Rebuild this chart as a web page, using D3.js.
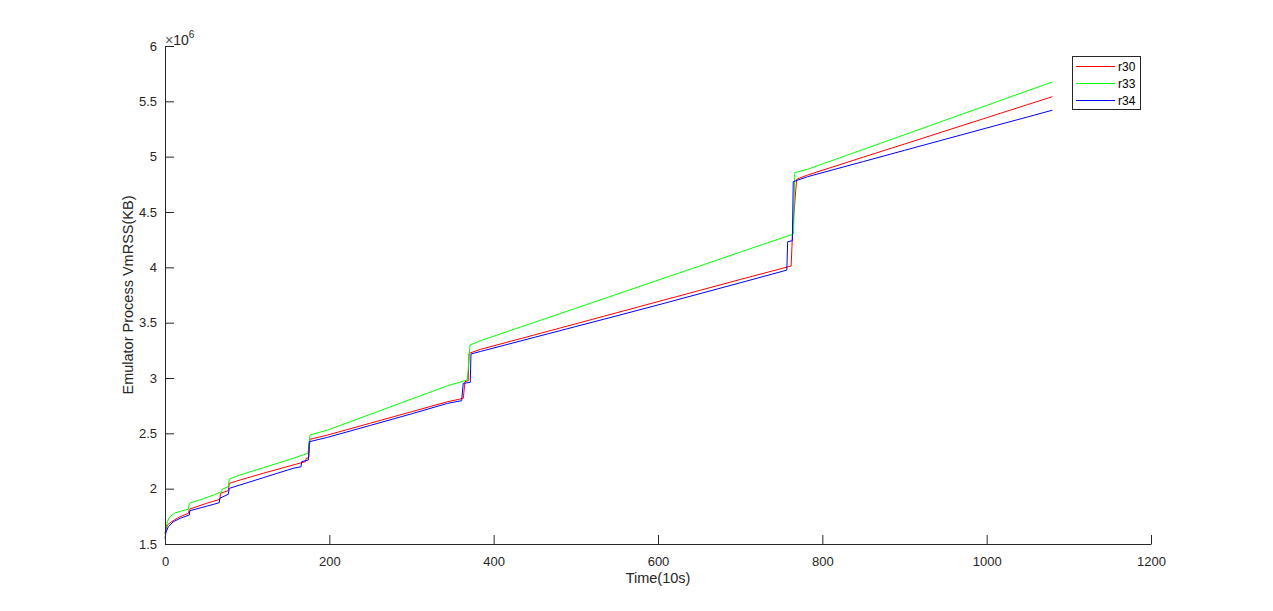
<!DOCTYPE html>
<html>
<head>
<meta charset="utf-8">
<script src="https://cdn.jsdelivr.net/npm/d3@7"></script>
<style>
  html, body { margin: 0; padding: 0; background: #ffffff; }
  svg { display: block; font-family: "Liberation Sans", Arial, Helvetica, sans-serif; }
</style>
</head>
<body>
<svg id="chart" width="1273" height="611"></svg>
<script>
// ---- data (Time in 10s units, VmRSS in KB) ----
const seriesNames = ["r30", "r33", "r34"];
const seriesColors = ["#ff0000", "#00ff00", "#0000ff"];

const r30Time  = [0, 1, 3, 6, 12, 18.3, 28.4, 29.6, 50.7, 66.9, 67.5, 77, 78.3, 91.3, 120, 156, 171, 171.6, 175, 176.5, 198, 250, 300, 344, 363, 365.1, 369, 370, 384, 450, 500, 550, 600, 650, 700, 762, 764, 768.7, 782, 850, 900, 950, 1000, 1050, 1080];
const r30Value = [1590000, 1625000, 1672000, 1690000, 1720000, 1747000, 1777000, 1814000, 1868000, 1904000, 1958000, 1982000, 2048000, 2078000, 2140000, 2214000, 2244000, 2274000, 2280000, 2446000, 2485000, 2592000, 2695000, 2786000, 2816000, 2967000, 2975000, 3223000, 3259000, 3390000, 3490000, 3590000, 3690000, 3790000, 3890000, 4012000, 4350000, 4795000, 4834000, 4996000, 5114000, 5233000, 5352000, 5471000, 5542000];

const r33Time  = [0, 1, 3, 6, 12, 20, 28.4, 29.6, 45, 60, 69, 69.5, 77, 78.3, 91, 120, 150, 174, 176.5, 198, 250, 300, 344, 368, 371.2, 384, 450, 500, 550, 600, 650, 700, 740, 765, 765.5, 766.5, 782, 850, 900, 950, 1000, 1050, 1080];
const r33Value = [1600000, 1640000, 1705000, 1747000, 1780000, 1798000, 1814000, 1868000, 1905000, 1945000, 1973000, 1994000, 2018000, 2087000, 2123000, 2190000, 2260000, 2320000, 2485000, 2530000, 2672000, 2810000, 2930000, 2982000, 3298000, 3337000, 3504000, 3630000, 3757000, 3884000, 4010000, 4137000, 4238000, 4301000, 4563000, 4855000, 4886000, 5066000, 5198000, 5331000, 5463000, 5596000, 5675000];

const r34Time  = [0, 1, 4, 10, 18.3, 29.6, 30.2, 50, 66, 66.6, 77, 78.3, 91.3, 120, 156, 165.5, 166.3, 174.5, 175.6, 198, 250, 300, 344, 361, 363, 371.5, 372.4, 384, 450, 500, 550, 600, 650, 700, 756.8, 757.8, 763.5, 764.6, 782, 850, 900, 950, 1000, 1050, 1080];
const r34Value = [1550000, 1600000, 1656000, 1700000, 1732000, 1762000, 1801000, 1840000, 1873000, 1913000, 1949000, 2003000, 2033000, 2100000, 2184000, 2198000, 2244000, 2259000, 2424000, 2464000, 2572000, 2676000, 2771000, 2795000, 2952000, 2960000, 3217000, 3240000, 3368000, 3465000, 3562000, 3660000, 3760000, 3860000, 3975000, 4232000, 4240000, 4774000, 4819000, 4956000, 5057000, 5158000, 5259000, 5359000, 5420000];

const xTicks = [0, 200, 400, 600, 800, 1000, 1200];
const yTicks = [1.5e6, 2e6, 2.5e6, 3e6, 3.5e6, 4e6, 4.5e6, 5e6, 5.5e6, 6e6];
const yTickLabels = ["1.5", "2", "2.5", "3", "3.5", "4", "4.5", "5", "5.5", "6"];
const xLabel = "Time(10s)";
const yLabel = "Emulator Process VmRSS(KB)";

(function () {
// ---- layout ----
const svg = d3.select("#chart");
const pLeft = 165, pRight = 1151, pTop = 46, pBottom = 544;
const axisColor = "#262626";

const x = d3.scaleLinear().domain([0, 1200]).range([pLeft, pRight]);
const y = d3.scaleLinear().domain([1.5e6, 6e6]).range([pBottom, pTop]);

const series = [
  { name: seriesNames[0], color: seriesColors[0], t: r30Time, v: r30Value },
  { name: seriesNames[1], color: seriesColors[1], t: r33Time, v: r33Value },
  { name: seriesNames[2], color: seriesColors[2], t: r34Time, v: r34Value }
];

const line = d3.line().x(d => x(d[0])).y(d => y(d[1]));

const plot = svg.append("g");
series.forEach(s => {
  const pts = s.t.map((t, i) => [t, s.v[i]]);
  plot.append("path")
    .datum(pts)
    .attr("fill", "none")
    .attr("stroke", s.color)
    .attr("stroke-width", 1)
    .attr("d", line);
});

// ---- axes ----
const xAxis = d3.axisBottom(x).tickValues(xTicks).tickSize(-9).tickPadding(13).tickFormat(d3.format("d"));
const gx = svg.append("g").attr("transform", `translate(0,${pBottom})`).call(xAxis);
gx.select(".domain").attr("stroke", axisColor).attr("d", `M${pLeft + 0.5},0.5H${pRight + 0.5}`);
gx.selectAll(".tick line").attr("stroke", axisColor);
gx.selectAll(".tick text").attr("fill", axisColor).attr("font-size", 13)
  .attr("font-family", "'Liberation Sans', Arial, sans-serif");

const yAxis = d3.axisLeft(y).tickValues(yTicks).tickSize(-9).tickPadding(8)
  .tickFormat((d, i) => yTickLabels[i]);
const gy = svg.append("g").attr("transform", `translate(${pLeft},0)`).call(yAxis);
gy.select(".domain").attr("stroke", axisColor).attr("d", `M0.5,${pTop + 0.5}V${pBottom + 0.5}`);
gy.selectAll(".tick line").attr("stroke", axisColor);
gy.selectAll(".tick text").attr("fill", axisColor).attr("font-size", 13)
  .attr("font-family", "'Liberation Sans', Arial, sans-serif");

// exponent
const exp = svg.append("text").attr("x", 165).attr("y", 45).attr("fill", axisColor)
  .attr("font-size", 14);
exp.append("tspan").attr("fill", "#555").text("\u00d7");
exp.append("tspan").text("10");
exp.append("tspan").attr("dy", -7).attr("font-size", 10).text("6");

// axis labels
svg.append("text").attr("x", (pLeft + pRight) / 2).attr("y", 583)
  .attr("text-anchor", "middle").attr("fill", axisColor).attr("font-size", 14.5).text(xLabel);
svg.append("text").attr("transform", `translate(133,${(pTop + pBottom) / 2}) rotate(-90)`)
  .attr("text-anchor", "middle").attr("fill", axisColor).attr("font-size", 14.5).text(yLabel);

// ---- legend ----
const lg = svg.append("g");
lg.append("rect").attr("x", 1072.5).attr("y", 56.5).attr("width", 68).attr("height", 53)
  .attr("fill", "#ffffff").attr("stroke", axisColor).attr("stroke-width", 1);
series.forEach((s, i) => {
  const yy = 66.5 + i * 17;
  lg.append("line").attr("x1", 1076).attr("x2", 1115).attr("y1", yy).attr("y2", yy)
    .attr("stroke", s.color).attr("stroke-width", 1);
  lg.append("text").attr("x", 1118).attr("y", yy + 4.5).attr("fill", "#000")
    .attr("font-size", 12).text(s.name);
});
})();
</script>
</body>
</html>
